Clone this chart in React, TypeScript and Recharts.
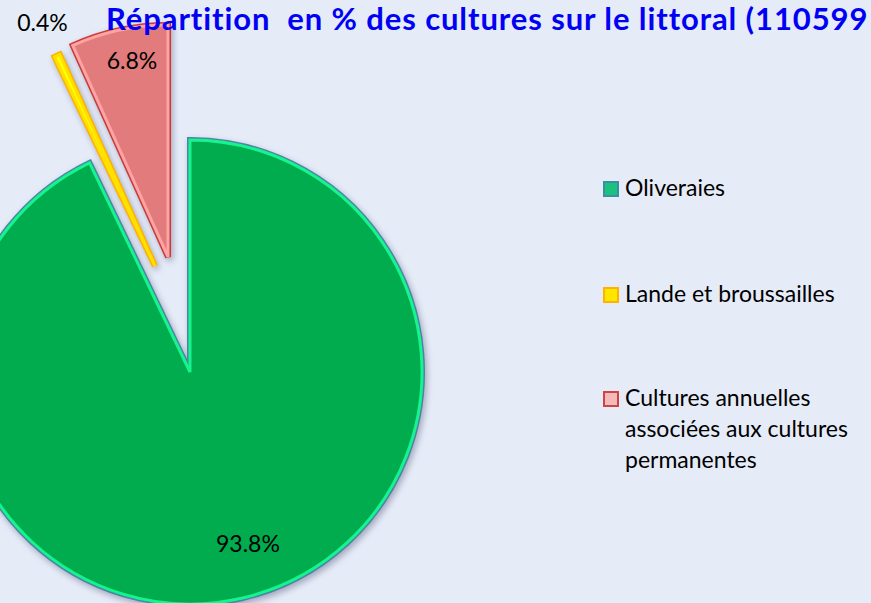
import React from "react";
import { PieChart, Pie, Cell, Legend } from "recharts";

const categories = ["Oliveraies", "Lande et broussailles", "Cultures annuelles associées aux cultures permanentes"];
const values = [93.8, 0.4, 6.8];
const valueLabels = ["93.8%", "0.4%", "6.8%"];
const legendLines = [["Oliveraies"], ["Lande et broussailles"], ["Cultures annuelles", "associées aux cultures", "permanentes"]];
const title = "Répartition  en % des cultures sur le littoral (110599 ha)";

const data = categories.map((name, i) => ({ name, value: values[i], label: valueLabels[i] }));

const W = 871;
const H = 603;
const R = 232;
const BG = "#E5EBF7";
const FONT = "Lato, 'Open Sans', sans-serif";

// style per slice
const fills = ["#00AC4E", "#FFFF00", "#E27B7B"];
const innerStrokes = ["#14F58E", "#FFE000", "#FFA3A3"];
const outerStrokes = ["#4C84A6", "#FFB000", "#C93A3A"];
const centers = [
  { cx: 190, cy: 372 },
  { cx: 155, cy: 266 },
  { cx: 168, cy: 257 },
];
const labelRadius = [180, 262, 200];
const labelNudge = [
  { dx: 18, dy: -5 },
  { dx: -2, dy: -6 },
  { dx: 6, dy: -1 },
];
const markerFill = ["#19C27E", "#FFE600", "#F6B9B9"];
const markerStroke = ["#3C8FA3", "#FFB300", "#D04343"];

const RAD = Math.PI / 180;

function makeLabel(idx: number) {
  return (props: any) => {
    if (props.index !== idx) return null;
    const { cx, cy, midAngle } = props;
    const r = labelRadius[idx];
    const x = cx + r * Math.cos(-midAngle * RAD) + labelNudge[idx].dx;
    const y = cy + r * Math.sin(-midAngle * RAD) + labelNudge[idx].dy;
    return (
      <text
        key={"lbl" + idx}
        x={x}
        y={y}
        textAnchor="middle"
        dominantBaseline="central"
        fill="#000"
        fontSize={23}
        fontFamily={FONT}
      >
        {valueLabels[idx]}
      </text>
    );
  };
}

function LegendContent() {
  return (
    <div style={{ fontFamily: FONT, fontSize: 23, color: "#000" }}>
      {legendLines.map((lines, i) => (
        <div key={i} style={{ position: "absolute", left: 0, top: [0, 106, 210][i], lineHeight: "31px" }}>
          <div
            style={{
              position: "absolute",
              left: 0,
              top: 9,
              width: 12,
              height: 12,
              background: markerFill[i],
              border: `2px solid ${markerStroke[i]}`,
            }}
          />
          <div style={{ marginLeft: 22, whiteSpace: "nowrap" }}>
            {lines.map((l, j) => (
              <div key={j}>{l}</div>
            ))}
          </div>
        </div>
      ))}
    </div>
  );
}

export default function App() {
  const pies: React.ReactNode[] = [];
  [0, 1, 2].forEach((idx) => {
    const { cx, cy } = centers[idx];
    pies.push(
      <Pie
        key={"o" + idx}
        data={data}
        dataKey="value"
        nameKey="name"
        cx={cx}
        cy={cy}
        outerRadius={R}
        startAngle={90}
        endAngle={-270}
        isAnimationActive={false}
        legendType="none"
      >
        {data.map((d, i) => (
          <Cell
            key={i}
            fill={i === idx ? fills[i] : "none"}
            stroke={i === idx ? outerStrokes[i] : "none"}
            strokeWidth={i === idx ? 6 : 0}
            style={i === idx ? { filter: "drop-shadow(2px 3px 3px rgba(40,40,80,0.35))" } : undefined}
          />
        ))}
      </Pie>
    );
    pies.push(
      <Pie
        key={"i" + idx}
        data={data}
        dataKey="value"
        nameKey="name"
        cx={cx}
        cy={cy}
        outerRadius={R}
        startAngle={90}
        endAngle={-270}
        isAnimationActive={false}
        legendType="none"
        label={makeLabel(idx)}
        labelLine={false}
      >
        {data.map((d, i) => (
          <Cell
            key={i}
            fill={i === idx ? fills[i] : "none"}
            stroke={i === idx ? innerStrokes[i] : "none"}
            strokeWidth={i === idx ? 3 : 0}
          />
        ))}
      </Pie>
    );
  });

  return (
    <div style={{ position: "absolute", left: 0, top: 0, width: W, height: H, background: BG, overflow: "hidden" }}>
      <PieChart width={W} height={H} margin={{ top: 0, right: 0, bottom: 0, left: 0 }}>
        {pies}
        <Legend
          content={<LegendContent />}
          wrapperStyle={{ position: "absolute", left: 603, top: 172, width: 268, height: 320 }}
        />
      </PieChart>
      <div
        style={{
          position: "absolute",
          left: 106,
          top: -1,
          fontFamily: FONT,
          fontWeight: 700,
          fontSize: 31,
          color: "#0000F5",
          whiteSpace: "pre",
          letterSpacing: 0.9,
        }}
      >
        {title}
      </div>
    </div>
  );
}
